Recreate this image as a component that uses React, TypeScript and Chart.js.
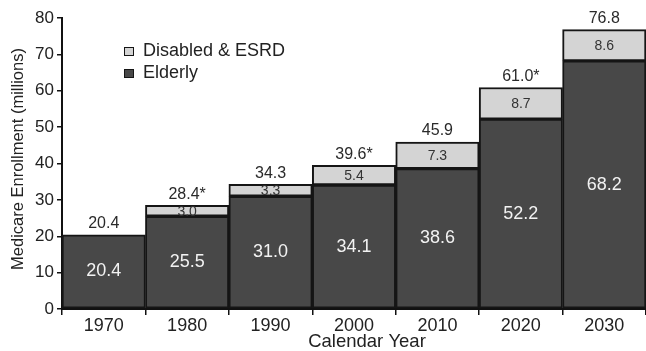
import React, { useEffect, useRef } from "react";
import { Chart, registerables } from "chart.js";

Chart.register(...registerables);

const categories = ["1970", "1980", "1990", "2000", "2010", "2020", "2030"];
const elderly = [20.4, 25.5, 31.0, 34.1, 38.6, 52.2, 68.2];
const disabled = [null, 3.0, 3.3, 5.4, 7.3, 8.7, 8.6];
const totalLabels = ["20.4", "28.4*", "34.3", "39.6*", "45.9", "61.0*", "76.8"];
const elderlyLabels = ["20.4", "25.5", "31.0", "34.1", "38.6", "52.2", "68.2"];
const disabledLabels = ["", "3.0", "3.3", "5.4", "7.3", "8.7", "8.6"];
const yTicks = [0, 10, 20, 30, 40, 50, 60, 70, 80];
const xTitle = "Calendar Year";
const yTitle = "Medicare Enrollment (millions)";

const FONT = "'Liberation Sans', Arial, sans-serif";
const DARK = "#484848";
const LIGHT = "#d4d4d4";
const EDGE = "#151515";

const labelPlugin = {
  id: "labels",
  afterDatasetsDraw(chart: any) {
    const ctx = chart.ctx;
    const m0 = chart.getDatasetMeta(0);
    const m1 = chart.getDatasetMeta(1);
    ctx.save();
    ctx.textAlign = "center";
    categories.forEach((_, i) => {
      const e = m0.data[i];
      const d = m1.data[i];
      ctx.fillStyle = "#f2f2f2";
      ctx.font = `18px ${FONT}`;
      ctx.textBaseline = "middle";
      ctx.fillText(elderlyLabels[i], e.x, (e.y + e.base) / 2);
      let top = e.y;
      if (disabled[i] != null && d) {
        ctx.fillStyle = "#333";
        ctx.font = `14px ${FONT}`;
        ctx.fillText(disabledLabels[i], d.x, (d.y + d.base) / 2 + 1);
        top = d.y;
      }
      ctx.fillStyle = "#2a2a2a";
      ctx.font = `16px ${FONT}`;
      ctx.textBaseline = "bottom";
      ctx.fillText(totalLabels[i], e.x, top - 3);
    });
    // x axis title
    ctx.fillStyle = "#222";
    ctx.font = `18.5px ${FONT}`;
    ctx.textBaseline = "middle";
    ctx.fillText(xTitle, 367, 342);
    // y axis title
    ctx.save();
    ctx.translate(18, 159);
    ctx.rotate(-Math.PI / 2);
    ctx.font = `16.5px ${FONT}`;
    ctx.fillText(yTitle, 0, 0);
    ctx.restore();
    // legend
    const items = [
      { t: "Disabled & ESRD", c: LIGHT, y: 51 },
      { t: "Elderly", c: DARK, y: 73 },
    ];
    ctx.textAlign = "left";
    ctx.textBaseline = "middle";
    ctx.font = `18px ${FONT}`;
    items.forEach((it) => {
      ctx.fillStyle = it.c;
      ctx.fillRect(124, it.y - 4, 10, 9);
      ctx.strokeStyle = EDGE;
      ctx.lineWidth = 1;
      ctx.strokeRect(124.5, it.y - 3.5, 9, 8);
      ctx.fillStyle = "#222";
      ctx.fillText(it.t, 143, it.y);
    });
    ctx.restore();
  },
};

export default function App() {
  const ref = useRef<HTMLCanvasElement>(null);
  useEffect(() => {
    document.body.style.margin = "0";
    const chart = new Chart(ref.current!, {
      type: "bar",
      data: {
        labels: categories,
        datasets: [
          {
            label: "Elderly",
            data: elderly,
            backgroundColor: DARK,
            borderColor: EDGE,
            borderWidth: 2,
            borderSkipped: false,
            barPercentage: 1,
            categoryPercentage: 1,
          },
          {
            label: "Disabled & ESRD",
            data: disabled as any,
            backgroundColor: LIGHT,
            borderColor: EDGE,
            borderWidth: 2,
            borderSkipped: false,
            barPercentage: 1,
            categoryPercentage: 1,
          },
        ],
      },
      options: {
        animation: false,
        responsive: true,
        maintainAspectRatio: false,
        layout: { padding: { top: 18, right: 0, left: 0, bottom: 0 } },
        plugins: { legend: { display: false }, tooltip: { enabled: false } },
        scales: {
          x: {
            stacked: true,
            offset: true,
            grid: {
              offset: true,
              drawOnChartArea: false,
              tickLength: 6,
              color: "#111",
              lineWidth: 1.5,
            },
            border: { color: "#111", width: 2 },
            ticks: { color: "#222", font: { family: FONT, size: 18 }, padding: 0 },
            afterFit(scale: any) {
              scale.height = 42;
            },
          },
          y: {
            stacked: true,
            min: 0,
            max: 80,
            afterBuildTicks(scale: any) {
              scale.ticks = yTicks.map((v) => ({ value: v }));
            },
            grid: {
              drawOnChartArea: false,
              tickLength: 5,
              color: "#111",
              lineWidth: 1.5,
            },
            border: { color: "#111", width: 2 },
            ticks: { color: "#222", font: { family: FONT, size: 17 }, padding: 3 },
            afterFit(scale: any) {
              scale.width = 62;
            },
          },
        },
      },
      plugins: [labelPlugin],
    });
    return () => chart.destroy();
  }, []);
  return (
    <div style={{ position: "absolute", left: 0, top: 0, width: 646, height: 351 }}>
      <canvas ref={ref} />
    </div>
  );
}
